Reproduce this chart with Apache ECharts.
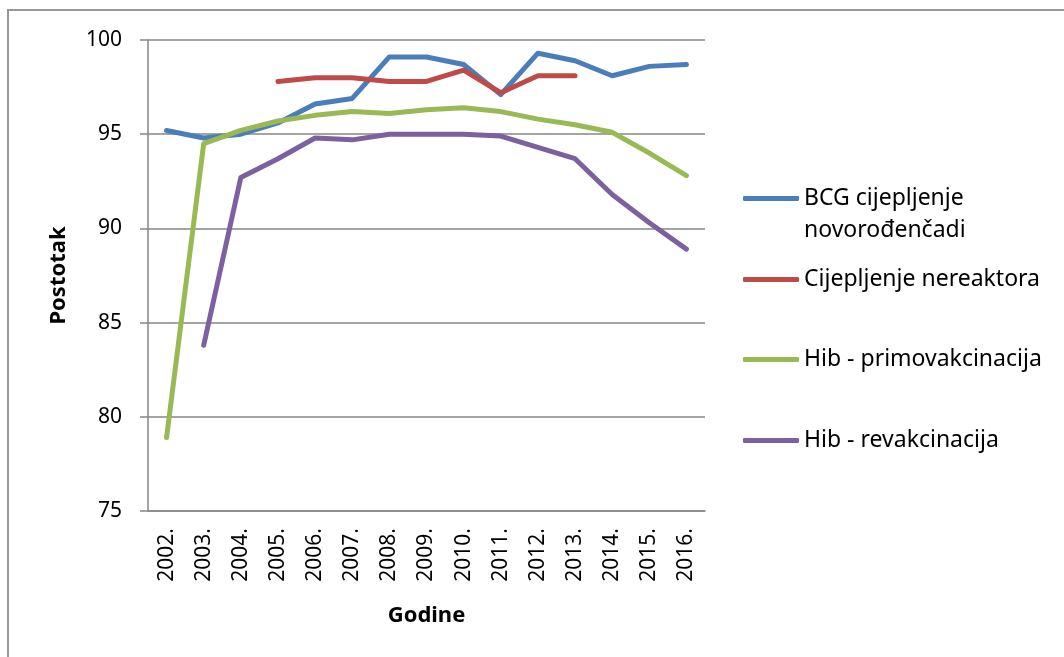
<!DOCTYPE html>
<html>
<head>
<meta charset="utf-8">
<script src="https://cdn.jsdelivr.net/npm/echarts@6/dist/echarts.min.js"></script>
<style>html,body{margin:0;padding:0;background:#fff}#c{width:1064px;height:657px}</style>
</head>
<body>
<div id="c"></div>
<script>
const years = ['2002.','2003.','2004.','2005.','2006.','2007.','2008.','2009.','2010.','2011.','2012.','2013.','2014.','2015.','2016.'];
const bcg = [95.2, 94.8, 95.0, 95.6, 96.6, 96.9, 99.1, 99.1, 98.7, 97.1, 99.3, 98.9, 98.1, 98.6, 98.7];
const nereaktori = [null, null, null, 97.8, 98.0, 98.0, 97.8, 97.8, 98.4, 97.2, 98.1, 98.1, null, null, null];
const hibPrimo = [78.9, 94.5, 95.2, 95.7, 96.0, 96.2, 96.1, 96.3, 96.4, 96.2, 95.8, 95.5, 95.1, 94.0, 92.8];
const hibRevak = [null, 83.8, 92.7, 93.7, 94.8, 94.7, 95.0, 95.0, 95.0, 94.9, 94.3, 93.7, 91.8, 90.3, 88.9];
const yTicks = [75, 80, 85, 90, 95, 100];

const names = ['BCG cijepljenje', 'Cijepljenje nereaktora', 'Hib - primovakcinacija', 'Hib - revakcinacija'];
const colors = ['#4A7EBB', '#BE4B48', '#98B954', '#7D60A0'];
const datas = [bcg, nereaktori, hibPrimo, hibRevak];
const legendCenters = [199, 280, 360, 441];
const FONT = 'Noto Sans';

const chart = echarts.init(document.getElementById('c'));
chart.setOption({
  animation: false,
  textStyle: { fontFamily: FONT },
  grid: { left: 148, right: 359, top: 40, bottom: 146 },
  xAxis: {
    type: 'category',
    data: years,
    boundaryGap: true,
    axisLine: { show: true, lineStyle: { color: '#868686', width: 1.5 } },
    axisTick: { show: false },
    axisLabel: { rotate: 90, color: '#000', fontSize: 21, fontFamily: FONT, margin: 17 },
    name: 'Godine',
    nameLocation: 'middle',
    nameGap: 94,
    nameTextStyle: { fontWeight: 'bold', fontSize: 22, color: '#000', fontFamily: FONT }
  },
  yAxis: {
    type: 'value',
    min: yTicks[0],
    max: yTicks[yTicks.length - 1],
    interval: 5,
    axisLine: { show: true, lineStyle: { color: '#868686', width: 1.5 } },
    axisTick: { show: true, inside: false, length: 8, lineStyle: { color: '#868686', width: 1.5 } },
    splitLine: { show: true, lineStyle: { color: '#868686', width: 1.5 } },
    axisLabel: { color: '#000', fontSize: 21, fontFamily: FONT, margin: 26 },
    name: 'Postotak',
    nameLocation: 'middle',
    nameGap: 78,
    nameTextStyle: { fontWeight: 'bold', fontSize: 22, color: '#000', fontFamily: FONT }
  },
  legend: names.map((n, i) => ({
    data: [n],
    orient: 'vertical',
    left: 743,
    top: legendCenters[i] - 12,
    padding: 0,
    icon: 'roundRect',
    itemWidth: 56,
    itemHeight: 5,
    itemGap: 0,
    textStyle: { fontSize: 23, color: '#000', fontFamily: FONT },
    selectedMode: false
  })),
  graphic: [
    { type: 'rect', shape: { x: 8, y: 10, width: 1100, height: 700 }, style: { fill: 'none', stroke: '#999', lineWidth: 2 }, silent: true },
    { type: 'text', left: 804, top: 219, style: { text: 'novorođenčadi', fontSize: 23, fill: '#000', fontFamily: FONT } }
  ],
  series: datas.map((d, i) => ({
    name: names[i],
    type: 'line',
    data: d,
    symbol: 'none',
    connectNulls: false,
    lineStyle: { color: colors[i], width: 5, cap: 'round', join: 'round' },
    itemStyle: { color: colors[i] }
  }))
});
</script>
</body>
</html>
